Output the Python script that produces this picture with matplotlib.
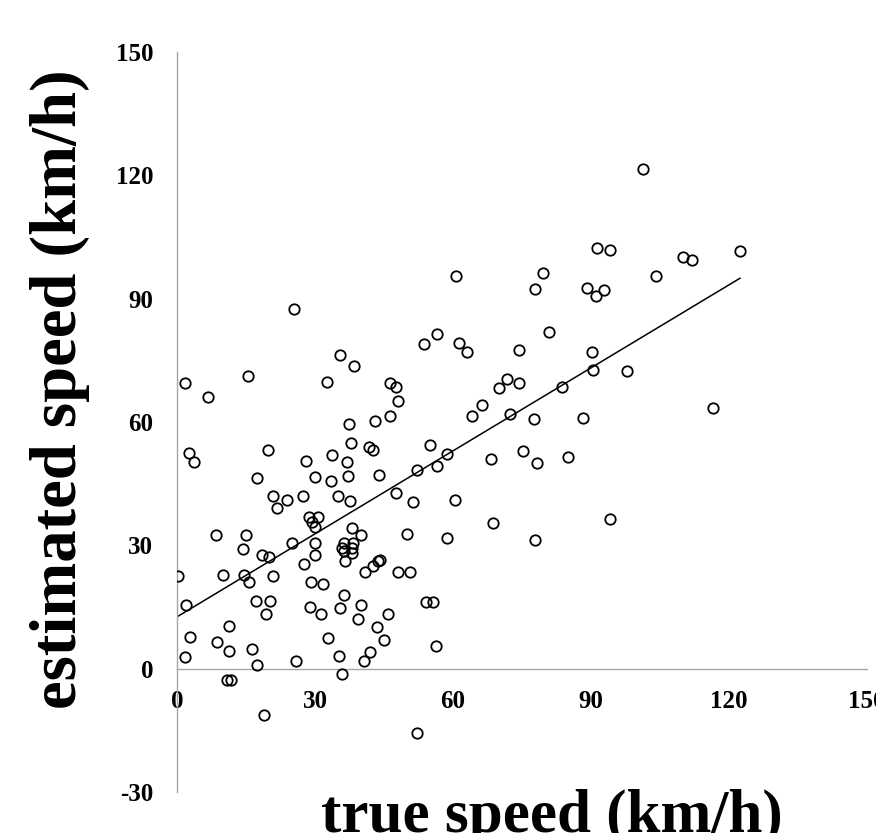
import matplotlib
matplotlib.use("Agg")
import matplotlib.pyplot as plt
import numpy as np

# ---- data ----
true_speed = [
    25.4, 56.6, 53.8, 61.4, 63.0, 35.4, 38.5, 1.7, 15.4, 32.6,
    46.3, 47.5, 6.8, 48.1, 46.3, 43.0, 37.4, 64.1, 37.9, 41.7,
    42.5, 55.1, 58.8, 2.5, 3.7, 19.8, 33.6, 28.1, 36.9, 52.2,
    56.6, 17.4, 29.9, 33.5, 37.2, 44.0, 20.9, 23.9, 21.7, 27.4,
    35.1, 37.5, 47.7, 51.4, 60.4, 28.7, 30.7, 29.3, 30.0, 38.0,
    39.9, 8.4, 15.1, 49.9, 58.6, 24.9, 30.1, 36.2, 38.3, 35.8,
    38.0, 36.2, 38.0, 36.5, 14.4, 18.5, 19.9, 30.0, 27.5, 0.3,
    10.1, 14.6, 15.7, 20.9, 29.2, 31.7, 40.9, 42.7, 43.8, 44.1,
    48.0, 50.6, 2.0, 17.2, 20.2, 19.3, 29.0, 31.2, 35.4, 36.2,
    39.9, 39.3, 45.8, 43.4, 44.9, 54.1, 55.6, 56.2, 11.4, 2.8,
    8.6, 11.2, 16.3, 1.7, 17.4, 25.9, 32.8, 35.2, 40.6, 42.0,
    10.9, 11.7, 35.9, 18.9, 52.2, 101.2, 91.2, 94.1, 60.7, 79.5,
    77.8, 89.1, 91.1, 92.8, 104.2, 110.0, 112.0, 122.4, 74.3, 80.9,
    90.2, 90.4, 97.8, 71.7, 74.3, 70.1, 83.6, 66.2, 72.4, 77.6,
    88.2, 116.6, 68.2, 75.2, 78.3, 85.1, 68.8, 77.9, 94.1,
]
estimated_speed = [
    87.5, 81.4, 78.9, 79.3, 77.0, 76.4, 73.5, 69.6, 71.1, 69.7,
    69.6, 68.5, 66.0, 65.0, 61.5, 60.3, 59.6, 61.5, 54.9, 53.8,
    53.3, 54.4, 52.3, 52.5, 50.2, 53.1, 51.9, 50.5, 50.3, 48.3,
    49.2, 46.4, 46.6, 45.7, 46.8, 47.1, 42.1, 41.0, 39.0, 41.9,
    42.0, 40.9, 42.7, 40.5, 41.0, 36.9, 37.0, 35.7, 34.5, 34.1,
    32.4, 32.6, 32.4, 32.7, 31.9, 30.6, 30.5, 30.6, 30.6, 29.4,
    29.4, 28.6, 28.1, 26.1, 29.2, 27.6, 27.2, 27.6, 25.5, 22.5,
    22.9, 22.9, 21.1, 22.6, 21.2, 20.7, 23.5, 24.9, 26.1, 26.5,
    23.5, 23.5, 15.6, 16.4, 16.4, 13.3, 15.0, 13.4, 14.7, 17.8,
    15.4, 12.1, 13.2, 10.1, 7.0, 16.1, 16.3, 5.6, 10.4, 7.6,
    6.5, 4.4, 4.9, 2.8, 0.8, 1.9, 7.4, 3.2, 1.8, 4.0,
    -2.7, -2.7, -1.2, -11.3, -15.6, 121.5, 102.4, 101.9, 95.4, 96.2,
    92.3, 92.5, 90.7, 92.0, 95.5, 100.1, 99.3, 101.5, 77.4, 81.9,
    77.0, 72.7, 72.3, 70.5, 69.6, 68.3, 68.5, 64.1, 62.0, 60.8,
    61.0, 63.4, 51.1, 53.0, 50.0, 51.4, 35.4, 31.4, 36.4,
]
trend_intercept = 12.6
trend_slope = 0.673

x_ticks = [0, 30, 60, 90, 120, 150]
y_ticks = [-30, 0, 30, 60, 90, 120, 150]
x_label = "true speed (km/h)"
y_label = "estimated speed (km/h)"

# ---- figure ----
plt.rcParams['font.family'] = ['Liberation Serif', 'DejaVu Serif']
plt.rcParams['font.weight'] = 'bold'

W, H = 876, 833
fig = plt.figure(figsize=(W / 100, H / 100), dpi=100)
ax = fig.add_axes([177 / W, (H - 792) / H, 690 / W, 740 / H])

ax.plot(true_speed, estimated_speed, linestyle='none', marker='o',
        markersize=7.5, markerfacecolor='none', markeredgecolor='black',
        markeredgewidth=1.3, zorder=3)

xs = np.array([min(true_speed), max(true_speed)])
ax.plot(xs, trend_intercept + trend_slope * xs, color='black', lw=1.1, zorder=2)

for s in ['top', 'right']:
    ax.spines[s].set_visible(False)
ax.spines['bottom'].set_position(('data', 0))
for s in ['left', 'bottom']:
    ax.spines[s].set_color('#a6a6a6')
    ax.spines[s].set_linewidth(1.0)

ax.set_xlim(0, 150)
ax.set_ylim(-30, 150)
ax.set_xticks(x_ticks)
ax.set_yticks(y_ticks)
ax.set_xticklabels([str(t) for t in x_ticks])
ax.set_yticklabels([str(t) for t in y_ticks])
ax.tick_params(axis='both', labelsize=18)
ax.tick_params(axis='x', length=0, pad=15)
ax.tick_params(axis='y', length=0, pad=17)
for lbl in ax.get_xticklabels() + ax.get_yticklabels():
    lbl.set_fontweight('bold')
    lbl.set_clip_on(False)

fig.text(552 / W, 1.5 / H, x_label, fontsize=44, fontweight='bold',
         ha='center', va='baseline')
fig.text(76 / W, 1 - 389 / H, y_label, fontsize=46.5, fontweight='bold',
         rotation=90, rotation_mode='anchor', ha='center', va='baseline')

fig.savefig("out.png", dpi=100)
